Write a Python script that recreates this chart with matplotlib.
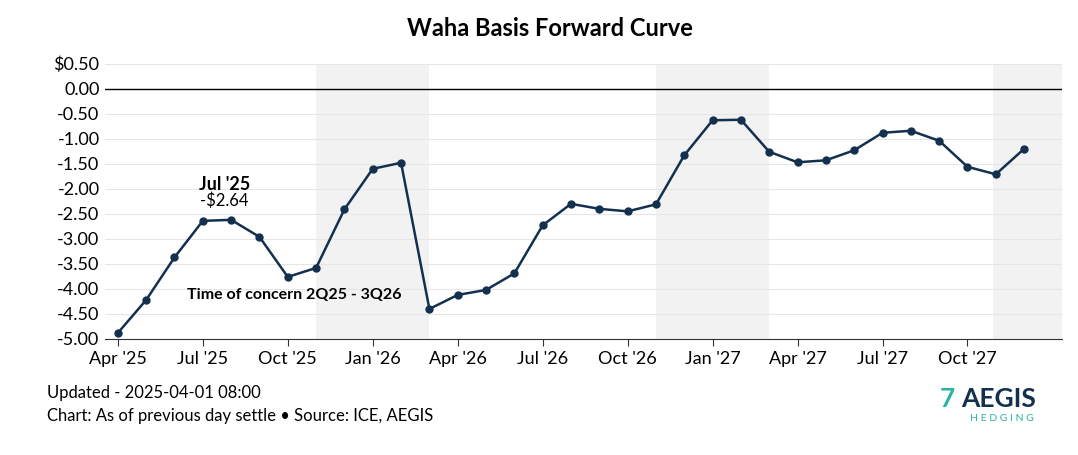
import matplotlib
matplotlib.use("Agg")
import matplotlib.pyplot as plt
import numpy as np

months = ["Apr '25","May '25","Jun '25","Jul '25","Aug '25","Sep '25","Oct '25","Nov '25","Dec '25",
          "Jan '26","Feb '26","Mar '26","Apr '26","May '26","Jun '26","Jul '26","Aug '26","Sep '26",
          "Oct '26","Nov '26","Dec '26","Jan '27","Feb '27","Mar '27","Apr '27","May '27","Jun '27",
          "Jul '27","Aug '27","Sep '27","Oct '27","Nov '27","Dec '27"]
values = [-4.88,-4.22,-3.37,-2.64,-2.62,-2.96,-3.76,-3.58,-2.41,-1.60,-1.48,-4.40,-4.12,-4.02,-3.69,
          -2.73,-2.30,-2.40,-2.45,-2.31,-1.33,-0.63,-0.62,-1.26,-1.47,-1.43,-1.23,-0.88,-0.84,-1.04,
          -1.56,-1.71,-1.20]
winters = [(7, 11), (19, 23), (30.9, 33.35)]
ytick_vals = [0.5,0,-0.5,-1,-1.5,-2,-2.5,-3,-3.5,-4,-4.5,-5]
ytick_labels = ["$0.50","0.00","-0.50","-1.00","-1.50","-2.00","-2.50","-3.00","-3.50","-4.00","-4.50","-5.00"]

plt.rcParams["font.family"] = "Lato"
fig = plt.figure(figsize=(10.78, 4.55), dpi=100)
ax = fig.add_axes([0.0975, 0.255, 0.888, 0.605])
x = np.arange(len(values))
for a, b in winters:
    ax.axvspan(a, b, color="#f2f2f2", zorder=0, lw=0)
for yv in ytick_vals:
    ax.axhline(yv, color="#e6e6e6", lw=0.8, zorder=1)
ax.axhline(0, color="black", lw=1, zorder=2)
ax.plot(x, values, color="#14304f", lw=1.8, marker="o", ms=5, zorder=3)
ax.set_xlim(-0.45, 33.35)
ax.set_ylim(-5.0, 0.5)
ax.set_yticks(ytick_vals)
ax.set_yticklabels(ytick_labels, fontsize=13)
ax.set_xticks(x[::3])
ax.set_xticklabels(months[::3], fontsize=13)
ax.tick_params(axis="y", length=0, pad=4)
ax.tick_params(axis="x", length=5, color="#333333")
for s in ["top", "right", "left"]:
    ax.spines[s].set_visible(False)
ax.spines["bottom"].set_color("#333333")
ax.text(2.85, values[3] + 0.62, "Jul '25", ha="left", fontsize=13, fontweight="bold")
ax.text(2.9, values[3] + 0.3, "-$2.64", ha="left", fontsize=12)
ax.text(2.45, -4.21, "Time of concern 2Q25 - 3Q26", fontsize=11.5, fontweight="bold")
fig.text(0.51, 0.92, "Waha Basis Forward Curve", ha="center", fontsize=17, fontweight="bold")
fig.text(0.044, 0.125, "Updated - 2025-04-01 08:00", fontsize=12)
fig.text(0.044, 0.075, "Chart: As of previous day settle \u2022 Source: ICE, AEGIS", fontsize=12)
fig.text(0.892, 0.105, "AEGIS", fontsize=19, fontweight="bold", color="#14304f")
fig.text(0.9, 0.075, "H E D G I N G", fontsize=7.5, color="#2bb5a0")
fig.text(0.872, 0.105, "7", fontsize=19, fontweight="bold", color="#2bb5a0")
fig.savefig("out.png", dpi=100)
